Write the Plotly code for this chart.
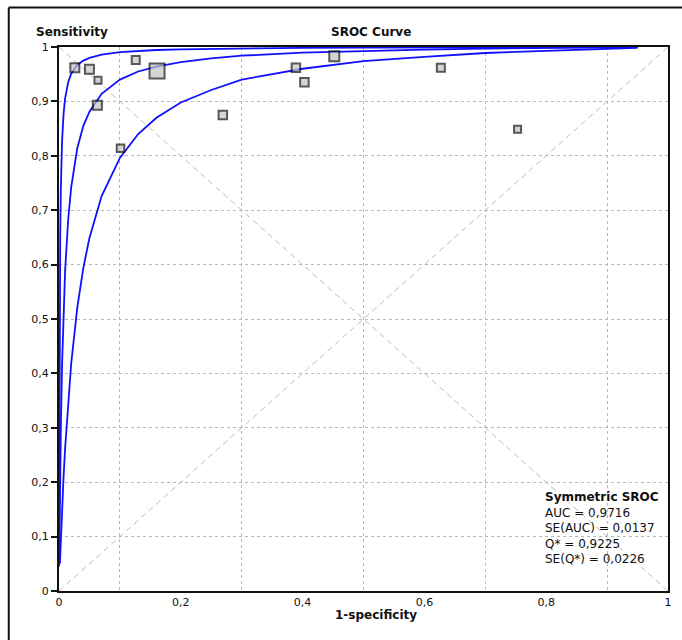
import plotly.graph_objects as go

# ---- study points (1-specificity, sensitivity, weight size) ----
study_fpr = [0.026, 0.050, 0.064, 0.063, 0.126, 0.161, 0.101, 0.269, 0.389, 0.403, 0.452, 0.627, 0.753]
study_sens = [0.962, 0.959, 0.939, 0.893, 0.976, 0.956, 0.814, 0.875, 0.962, 0.935, 0.983, 0.962, 0.849]
study_size = [9, 9, 7, 9, 8, 15, 7.5, 8.5, 8.5, 8.5, 10, 8, 7]

# ---- SROC curve (middle) and its bounds ----
mid_x = [0.0004, 0.001, 0.002, 0.003, 0.005, 0.0075, 0.01, 0.015, 0.02, 0.03, 0.04, 0.05, 0.07,
         0.1, 0.13, 0.16, 0.2, 0.25, 0.3, 0.4, 0.5, 0.6, 0.7, 0.8, 0.9, 0.95]
mid_y = [0.054, 0.124, 0.220, 0.298, 0.415, 0.516, 0.588, 0.682, 0.742, 0.814, 0.855, 0.881, 0.914,
         0.940, 0.955, 0.964, 0.972, 0.979, 0.984, 0.9895, 0.993, 0.9953, 0.997, 0.9982, 0.9992, 0.9996]

up_x = [0.00005, 0.0001, 0.0002, 0.0005, 0.001, 0.002, 0.003, 0.005, 0.0075, 0.01, 0.015, 0.02, 0.03,
        0.04, 0.05, 0.07, 0.1, 0.13, 0.16, 0.2, 0.3, 0.4, 0.5, 0.6, 0.8, 0.95]
up_y = [0.045, 0.086, 0.159, 0.321, 0.486, 0.654, 0.740, 0.826, 0.877, 0.905, 0.935, 0.951, 0.967,
        0.975, 0.980, 0.986, 0.9906, 0.993, 0.9945, 0.9958, 0.9975, 0.9984, 0.9989, 0.9993, 0.9997, 0.9999]

low_x = [0.0015, 0.002, 0.003, 0.005, 0.0075, 0.01, 0.015, 0.02, 0.03, 0.04, 0.05, 0.07, 0.1, 0.13,
         0.16, 0.2, 0.25, 0.3, 0.4, 0.5, 0.6, 0.7, 0.8, 0.9, 0.95]
low_y = [0.050, 0.066, 0.096, 0.150, 0.210, 0.262, 0.349, 0.418, 0.521, 0.594, 0.649, 0.726, 0.796, 0.840,
         0.870, 0.898, 0.921, 0.940, 0.960, 0.974, 0.982, 0.989, 0.993, 0.997, 0.9985]

# reference diagonals
diag_x = [0, 1]
diag_y = [0, 1]
anti_y = [1, 0]

stats_lines = ["AUC = 0,9716", "SE(AUC) = 0,0137", "Q* = 0,9225", "SE(Q*) = 0,0226"]

FONT = "DejaVu Sans, Verdana, sans-serif"
BLUE = "#1010ff"

fig = go.Figure()
diag_style = dict(color="#bdbdbd", width=1, dash="6px,4px")
fig.add_trace(go.Scatter(x=diag_x, y=diag_y, mode="lines", line=diag_style, hoverinfo="skip"))
fig.add_trace(go.Scatter(x=diag_x, y=anti_y, mode="lines", line=diag_style, hoverinfo="skip"))

for cx, cy in [(up_x, up_y), (mid_x, mid_y), (low_x, low_y)]:
    fig.add_trace(go.Scatter(x=cx, y=cy, mode="lines", line=dict(color=BLUE, width=1.8)))

fig.add_trace(go.Scatter(
    x=study_fpr, y=study_sens, mode="markers",
    marker=dict(symbol="square", size=study_size, color="#c4c4c4",
                line=dict(color="#111111", width=2)),
    cliponaxis=False,
))

grid_style = dict(gridcolor="#b8b8b8", gridwidth=1, griddash="3px,3px")

fig.update_layout(
    width=682, height=640,
    margin=dict(l=59, r=10, t=47, b=49),
    paper_bgcolor="white", plot_bgcolor="white",
    showlegend=False,
    separators=", ",
    font=dict(family=FONT, size=11, color="#111111"),
    xaxis=dict(range=[0, 1], dtick=0.2, tick0=0, showgrid=False, zeroline=False,
               showline=True, linecolor="#111111", linewidth=2, mirror=True,
               ticks="", tickfont=dict(size=11, family=FONT, color="#111111"),
               minor=dict(dtick=0.1, tick0=0, showgrid=True, **grid_style)),
    yaxis=dict(range=[0, 1], dtick=0.1, tick0=0, showgrid=True, **grid_style, zeroline=False,
               showline=True, linecolor="#111111", linewidth=2, mirror=True,
               ticks="outside", ticklen=6, tickwidth=2, tickcolor="#111111",
               tickfont=dict(size=11, family=FONT, color="#111111")),
)

# titles
fig.add_annotation(text="<b>Sensitivity</b>", xref="paper", yref="paper",
                   x=-0.041, y=1.0276, xanchor="left", yanchor="middle", showarrow=False,
                   font=dict(size=12, family=FONT, color="#111111"))
fig.add_annotation(text="<b>SROC Curve</b>", xref="paper", yref="paper",
                   x=0.513, y=1.0276, xanchor="center", yanchor="middle", showarrow=False,
                   font=dict(size=12, family=FONT, color="#111111"))
fig.add_annotation(text="<b>1-specificity</b>", xref="paper", yref="paper",
                   x=0.52, y=-0.044, xanchor="center", yanchor="middle", showarrow=False,
                   font=dict(size=12, family=FONT, color="#111111"))

# stats box
fig.add_annotation(text="<b>Symmetric SROC</b><br>" + "<br>".join(stats_lines),
                   xref="paper", yref="paper", x=0.795, y=0.19, xanchor="left", yanchor="top",
                   align="left", showarrow=False,
                   font=dict(size=12, family=FONT, color="#111111"))

# outer frame (cropped at right and bottom)
frame = dict(color="#111111", width=2)
fig.add_shape(type="line", xref="paper", yref="paper", x0=-0.0825, y0=1.0726, x1=1.2, y1=1.0726, line=frame)
fig.add_shape(type="line", xref="paper", yref="paper", x0=-0.0825, y0=1.0726, x1=-0.0825, y1=-0.3, line=frame)

fig.write_html(
    "out.html",
    config={"displayModeBar": False},
    post_script="document.body.style.margin='0';document.body.style.overflow='hidden';",
)
